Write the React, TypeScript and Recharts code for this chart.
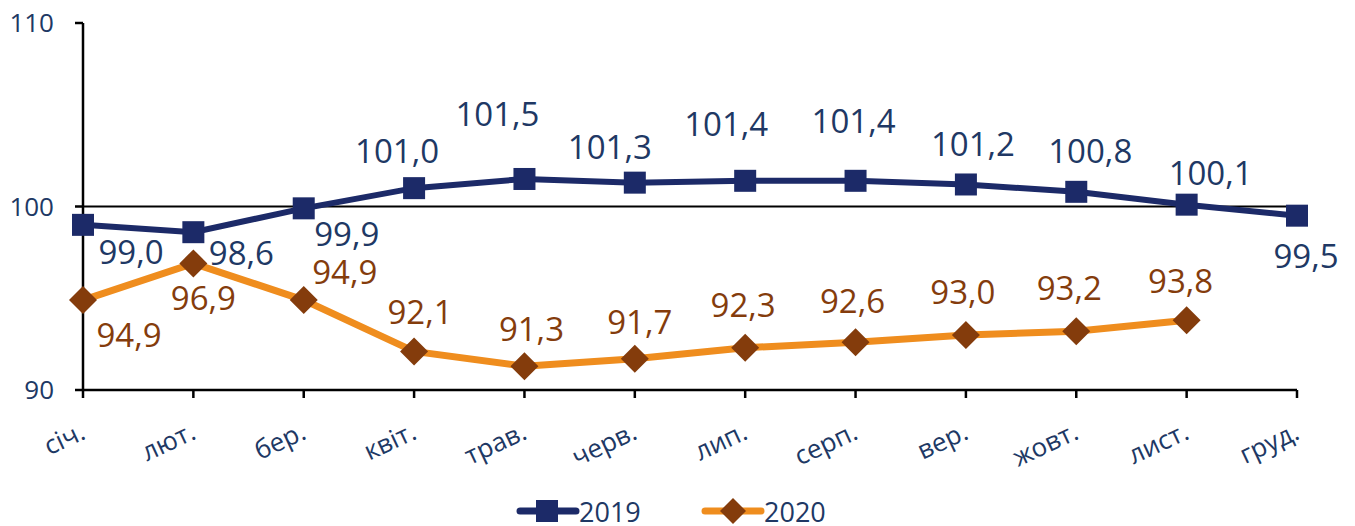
import React from "react"
import {
  LineChart,
  Line,
  XAxis,
  YAxis,
  ReferenceLine,
  LabelList,
  Legend,
} from "recharts"

const months = ["січ.", "лют.", "бер.", "квіт.", "трав.", "черв.", "лип.", "серп.", "вер.", "жовт.", "лист.", "груд."]
const values2019 = [99.0, 98.6, 99.9, 101.0, 101.5, 101.3, 101.4, 101.4, 101.2, 100.8, 100.1, 99.5]
const values2020 = [94.9, 96.9, 94.9, 92.1, 91.3, 91.7, 92.3, 92.6, 93.0, 93.2, 93.8, null]
const yTicks = [90, 100, 110]

const NAVY = "#1C2A68"
const NAVY_TEXT = "#203864"
const ORANGE = "#EF8D1E"
const BROWN = "#843C0C"
const FONT = "'Open Sans', sans-serif"

// ручное размещение подписей, как в исходнике (dx, dy от точки)
const OFF_2019: [number, number][] = [
  [48, 27], [48, 20], [43, 25], [-17, -38], [-27, -65], [-25, -36],
  [-19, -57], [-2, -60], [7, -41], [14, -41], [24, -32], [9, 40],
]
const OFF_2020: [number, number][] = [
  [46, 34], [10, 34], [41, -29], [6, -40], [7, -38], [5, -37],
  [-2, -43], [-3, -42], [-3, -43], [-7, -44], [-6, -40],
]

const data = months.map((m, i) => ({ month: m, y2019: values2019[i], y2020: values2020[i] }))

const fmt = (v: number) => v.toFixed(1).replace(".", ",")

const makeLabel = (offsets: [number, number][], color: string) => (props: any) => {
  const { x, y, value, index } = props
  if (value == null) return null
  const [dx, dy] = offsets[index] ?? [0, -30]
  return (
    <text
      x={x + dx}
      y={y + dy}
      textAnchor="middle"
      dominantBaseline="central"
      fill={color}
      fontSize={33}
      fontFamily={FONT}
    >
      {fmt(value)}
    </text>
  )
}

const SquareDot = (props: any) => {
  const { cx, cy, index } = props
  if (cy == null) return <g key={index} />
  return <rect key={index} x={cx - 11} y={cy - 11} width={22} height={22} fill={NAVY} />
}

const DiamondDot = (props: any) => {
  const { cx, cy, index } = props
  if (cy == null) return <g key={index} />
  const r = 14
  return (
    <polygon
      key={index}
      points={`${cx},${cy - r} ${cx + r},${cy} ${cx},${cy + r} ${cx - r},${cy}`}
      fill={BROWN}
    />
  )
}

const MonthTick = ({ x, y, payload }: any) => (
  <text
    x={x + 4}
    y={y + 38}
    textAnchor="end"
    transform={`rotate(-25, ${x + 4}, ${y + 38})`}
    fill={NAVY_TEXT}
    fontSize={26}
    fontFamily={FONT}
  >
    {payload.value}
  </text>
)

const LegendBox = () => (
  <svg width={1355} height={56} style={{ display: "block", overflow: "visible" }}>
    <g>
      <line x1={520} x2={576} y1={41} y2={41} stroke={NAVY} strokeWidth={7} strokeLinecap="round" />
      <rect x={536} y={30} width={22} height={22} fill={NAVY} />
      <text x={579} y={41} dominantBaseline="central" fill={NAVY_TEXT} fontSize={27} fontFamily={FONT}>
        2019
      </text>
    </g>
    <g>
      <line x1={705} x2={761} y1={41} y2={41} stroke={ORANGE} strokeWidth={7} strokeLinecap="round" />
      <polygon points="733,28 746,41 733,54 720,41" fill={BROWN} />
      <text x={764} y={41} dominantBaseline="central" fill={NAVY_TEXT} fontSize={27} fontFamily={FONT}>
        2020
      </text>
    </g>
  </svg>
)

export default function App() {
  return (
    <div style={{ position: "absolute", left: 0, top: 0, background: "#fff" }}>
      <LineChart width={1355} height={526} data={data} margin={{ top: 23, right: 58, left: 0, bottom: 0 }}>
        <XAxis
          dataKey="month"
          padding={{ left: 0, right: 0 }}
          axisLine={{ stroke: "#000", strokeWidth: 2.5 }}
          tickLine={{ stroke: "#000", strokeWidth: 2.5 }}
          tickSize={8}
          height={80}
          interval={0}
          tick={<MonthTick />}
        />
        <YAxis
          domain={[90, 110]}
          ticks={yTicks}
          width={83}
          axisLine={{ stroke: "#000", strokeWidth: 2.5 }}
          tickLine={{ stroke: "#000", strokeWidth: 2.5 }}
          tickSize={8}
          tickMargin={21}
          tick={{ fill: NAVY_TEXT, fontSize: 26, fontFamily: FONT }}
        />
        <ReferenceLine y={100} stroke="#000" strokeWidth={2} />
        <Legend verticalAlign="bottom" content={<LegendBox />} wrapperStyle={{ height: 56 }} />
        <Line
          dataKey="y2019"
          stroke={NAVY}
          strokeWidth={6}
          dot={<SquareDot />}
          activeDot={false}
          isAnimationActive={false}
        >
          <LabelList dataKey="y2019" content={makeLabel(OFF_2019, NAVY_TEXT)} />
        </Line>
        <Line
          dataKey="y2020"
          stroke={ORANGE}
          strokeWidth={7}
          dot={<DiamondDot />}
          activeDot={false}
          connectNulls={false}
          isAnimationActive={false}
        >
          <LabelList dataKey="y2020" content={makeLabel(OFF_2020, BROWN)} />
        </Line>
      </LineChart>
    </div>
  )
}
